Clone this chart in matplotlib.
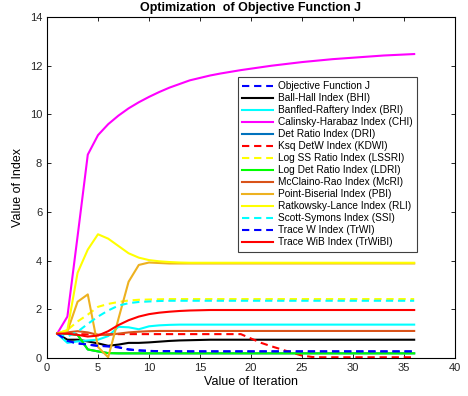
import numpy as np
import matplotlib
matplotlib.use('Agg')
import matplotlib.pyplot as plt

plt.rcParams['font.family'] = ['Liberation Sans', 'DejaVu Sans']

iterations = np.arange(1, 37)

# values, one per iteration (1..36)
obj_j = [1.0, 0.70, 0.60, 0.55, 0.50, 0.48, 0.44, 0.35, 0.31, 0.29, 0.28, 0.28] + [0.27] * 24
bhi = [1.0, 0.75, 0.75, 0.68, 0.60, 0.50, 0.55, 0.62, 0.62, 0.64, 0.67, 0.70, 0.72, 0.73, 0.74] + [0.75] * 21
bri = [1.0, 0.62, 0.68, 0.72, 0.75, 0.90, 1.28, 1.26, 1.18, 1.30, 1.34, 1.36] + [1.37] * 24
chi = [1.0, 1.7, 5.0, 8.35, 9.15, 9.6, 9.95, 10.25, 10.5, 10.72, 10.92, 11.1,
       11.25, 11.4, 11.5, 11.6, 11.68, 11.75, 11.82, 11.88, 11.94, 12.0, 12.05, 12.1,
       12.15, 12.19, 12.23, 12.27, 12.3, 12.33, 12.36, 12.39, 12.42, 12.44, 12.46, 12.48]
ldri = [1.0, 1.0, 0.95, 0.35, 0.27, 0.20] + [0.19] * 30
dri = ldri
kdwi = [1.0, 1.0, 0.98, 0.97, 0.95, 0.97] + [0.98] * 13 + [0.80, 0.62, 0.48, 0.35, 0.22, 0.10, 0.04] + [0.03] * 10
lssri = [1.0, 1.15, 1.5, 1.78, 2.1, 2.22, 2.3, 2.36, 2.39, 2.40, 2.41] + [2.42] * 25
mcri = [1.0, 1.05, 1.10, 1.05, 0.95, 0.95, 1.0, 1.05, 1.08, 1.10] + [1.11] * 26
pbi = [1.0, 1.1, 2.31, 2.61, 0.45, 0.03, 1.6, 3.13, 3.82, 3.92, 3.90] + [3.88] * 25
rli = [1.0, 1.15, 3.5, 4.45, 5.08, 4.9, 4.6, 4.3, 4.12, 4.02, 3.97, 3.94, 3.92] + [3.91] * 23
ssi = [1.0, 0.88, 1.08, 1.4, 1.7, 1.95, 2.15, 2.25, 2.3, 2.32, 2.34] + [2.35] * 25
trwi = obj_j
trwibi = [1.0, 1.0, 0.95, 0.88, 0.92, 1.1, 1.35, 1.55, 1.7, 1.8, 1.86, 1.9, 1.93, 1.95, 1.96] + [1.97] * 21

dash = (0, (3.5, 2.3))
series = [
    ('Objective Function J', obj_j, (0, 0, 1), dash),
    ('Ball-Hall Index (BHI)', bhi, (0, 0, 0), '-'),
    ('Banfled-Raftery Index (BRI)', bri, (0, 1, 1), '-'),
    ('Calinsky-Harabaz Index (CHI)', chi, (1, 0, 1), '-'),
    ('Det Ratio Index (DRI)', dri, (0, 0.447, 0.741), '-'),
    ('Ksq DetW Index (KDWI)', kdwi, (1, 0, 0), dash),
    ('Log SS Ratio Index (LSSRI)', lssri, (1, 1, 0), dash),
    ('Log Det Ratio Index (LDRI)', ldri, (0, 1, 0), '-'),
    ('McClaino-Rao Index (McRI)', mcri, (0.85, 0.325, 0.098), '-'),
    ('Point-Biserial Index (PBI)', pbi, (0.929, 0.694, 0.125), '-'),
    ('Ratkowsky-Lance Index (RLI)', rli, (1, 1, 0), '-'),
    ('Scott-Symons Index (SSI)', ssi, (0, 1, 1), dash),
    ('Trace W Index (TrWI)', trwi, (0, 0, 1), dash),
    ('Trace WiB Index (TrWiBI)', trwibi, (1, 0, 0), '-'),
]

fig = plt.figure(figsize=(4.68, 3.96), dpi=100)
ax = fig.add_axes([0.1004, 0.096, 0.8718, 0.861])

for label, vals, color, ls in series:
    ax.plot(iterations, vals, color=color, linestyle=ls, linewidth=1.5, label=label)

ax.set_xlim(0, 40)
ax.set_ylim(0, 14)
ax.set_xticks(range(0, 41, 5))
ax.set_yticks(range(0, 15, 2))
ax.tick_params(direction='in', top=True, right=True, labelsize=8, length=3, width=0.6,
               labelcolor='#262626')
for sp in ax.spines.values():
    sp.set_linewidth(0.8)

ax.set_title('Optimization  of Objective Function J', fontsize=9, fontweight='bold', pad=4)
ax.set_xlabel('Value of Iteration', fontsize=9, labelpad=2)
ax.set_ylabel('Value of Index', fontsize=9, labelpad=4)

leg = ax.legend(loc='upper left', bbox_to_anchor=(0.468, 0.824), borderaxespad=0,
                fontsize=7.3, fancybox=False, edgecolor='#404040', framealpha=1,
                handlelength=3.1, handletextpad=0.5, labelspacing=0.2,
                borderpad=0.4)
leg.get_frame().set_linewidth(0.8)

plt.savefig('out.png', dpi=100)
plt.close()
